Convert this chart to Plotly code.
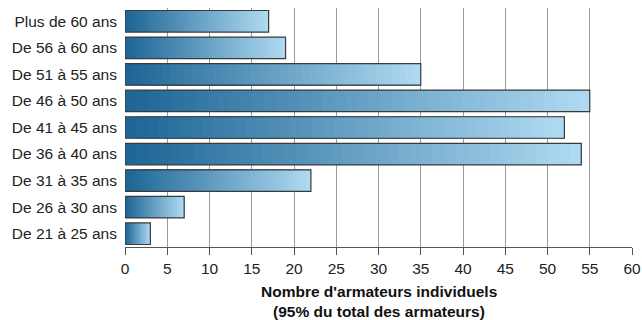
import plotly.graph_objects as go

categories = ['De 21 à 25 ans', 'De 26 à 30 ans', 'De 31 à 35 ans', 'De 36 à 40 ans',
              'De 41 à 45 ans', 'De 46 à 50 ans', 'De 51 à 55 ans', 'De 56 à 60 ans',
              'Plus de 60 ans']
values = [3, 7, 22, 54, 52, 55, 35, 19, 17]
x_ticks = list(range(0, 61, 5))
title_lines = ["Nombre d'armateurs individuels", "(95% du total des armateurs)"]

# degrade gauche -> droite
C0 = (30, 102, 150)
C1 = (174, 217, 241)
N = 40
LARGEUR = 0.81


def mix(t):
    return 'rgb(%d,%d,%d)' % tuple(round(a + (b - a) * t) for a, b in zip(C0, C1))


fig = go.Figure()
# couches superposees: chaque couche part de k/N jusqu'au bout de la barre
for k in range(N):
    fig.add_trace(go.Bar(
        y=categories,
        x=[v * (N - k) / N for v in values],
        base=[v * k / N for v in values],
        orientation='h',
        marker=dict(color=mix(k / (N - 1)), line=dict(width=0)),
        width=LARGEUR,
        hoverinfo='skip',
        showlegend=False,
    ))

fig.add_trace(go.Bar(
    y=categories, x=values, orientation='h',
    marker=dict(color='rgba(0,0,0,0)', line=dict(color='#3a3a3a', width=1.2)),
    width=LARGEUR,
    showlegend=False,
    hovertemplate='%{y}: %{x}<extra></extra>',
))

# titre de l'axe x sur deux lignes
for i, txt in enumerate(title_lines):
    fig.add_annotation(
        text='<b>' + txt + '</b>',
        xref='paper', yref='paper', x=0.5, y=0, yshift=-44 - 20 * i,
        xanchor='center', yanchor='middle', showarrow=False,
        font=dict(size=15.5, color='#111'),
    )

fig.update_layout(
    barmode='overlay',
    width=642, height=320,
    margin=dict(l=125, r=10, t=8, b=73),
    paper_bgcolor='white', plot_bgcolor='white',
    font=dict(family='Liberation Sans, Arial, sans-serif', size=15, color='#222'),
)
fig.update_xaxes(
    range=[0, 60], tickvals=x_ticks,
    showgrid=True, gridcolor='#9a9a9a', gridwidth=1,
    showline=True, linecolor='#555', linewidth=1,
    ticks='outside', ticklen=7, tickcolor='#555',
    zeroline=False, automargin=False,
    tickfont=dict(size=15.5, color='#222'),
)
fig.update_yaxes(
    showgrid=False, showline=False, ticks='',
    automargin=False,
    tickfont=dict(size=15.5, color='#222'),
    ticklabelstandoff=7,
)

fig.write_html('out.html', config={'displayModeBar': False},
               post_script="document.body.style.margin='0';")
